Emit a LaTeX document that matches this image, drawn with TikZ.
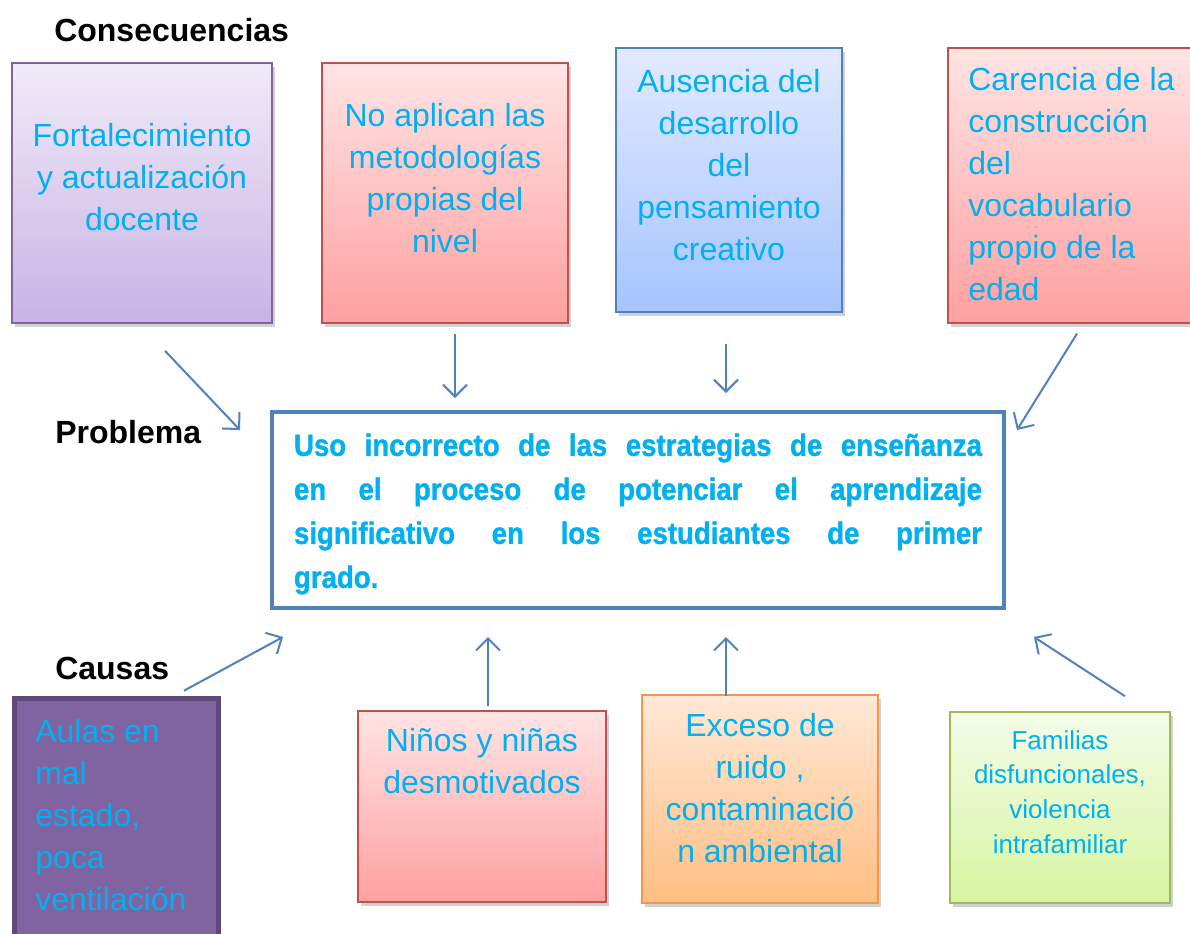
\documentclass[tikz,border=0pt]{standalone}
\usepackage{fontspec}
\setmainfont{Liberation Sans}
\newfontfamily\heavyfont{Liberation Sans Bold}[FakeBold=1.2,FakeStretch=0.9]
\usetikzlibrary{arrows.meta,shadows,calc}

\definecolor{txtcyan}{RGB}{0,176,240}
\definecolor{linkblue}{RGB}{79,129,189}
\definecolor{lilaedge}{RGB}{128,100,162}
\definecolor{lilatop}{RGB}{240,234,248}
\definecolor{lilabot}{RGB}{200,180,228}
\definecolor{rededge}{RGB}{192,80,77}
\definecolor{redtop}{RGB}{255,228,228}
\definecolor{redbot}{RGB}{255,160,160}
\definecolor{bluetop}{RGB}{226,234,255}
\definecolor{bluebot}{RGB}{166,196,255}
\definecolor{orangeedge}{RGB}{247,150,70}
\definecolor{orangetop}{RGB}{255,232,214}
\definecolor{orangebot}{RGB}{255,190,130}
\definecolor{greenedge}{RGB}{155,187,89}
\definecolor{greentop}{RGB}{244,252,232}
\definecolor{greenbot}{RGB}{215,245,160}
\definecolor{darkedge}{RGB}{95,73,122}

\begin{document}
\begin{tikzpicture}[x=0.75pt,y=-0.75pt,
  box/.style={draw, rectangle, line width=1.2pt, inner sep=0pt,
    drop shadow={shadow xshift=2pt, shadow yshift=-3pt, opacity=0.3, fill=black!60}},
  txt/.style={font=\fontsize{24pt}{31.5pt}\selectfont, text=txtcyan, align=center, inner sep=0pt},
  head/.style={font=\fontsize{24pt}{28pt}\selectfont\bfseries, anchor=west, inner sep=0pt},
  conn/.style={draw=linkblue, line width=1.5pt, -{Straight Barb[length=9pt,width=18pt,line width=1.5pt]}}]
  \useasboundingbox (0,0) rectangle (1190,933);

  % Headings
  \node[head] (hcons) at (54,30) {Consecuencias};
  \node[head] (hprob) at (55,432) {Problema};
  \node[head] (hcaus) at (55,668) {Causas};

  % Consequences
  \node[box, draw=lilaedge, top color=lilatop, bottom color=lilabot,
    minimum width=195pt, minimum height=195pt] (c1) at (142,193) {};
  \node[box, draw=rededge, top color=redtop, bottom color=redbot,
    minimum width=184.5pt, minimum height=195pt] (c2) at (445,193) {};
  \node[box, draw=linkblue, top color=bluetop, bottom color=bluebot,
    minimum width=169.5pt, minimum height=198pt] (c3) at (729,180) {};
  \node[box, draw=rededge, top color=redtop, bottom color=redbot,
    minimum width=189pt, minimum height=206pt] (c4) at (1074,185.5) {};

  \node[txt] (c1t) at (142,177) {Fortalecimiento\\y actualización\\docente};
  \node[txt] (c2t) at (445,178) {No aplican las\\metodologías\\propias del\\nivel};
  \node[txt] (c3t) at (729,165) {Ausencia del\\desarrollo\\del\\pensamiento\\creativo};
  \node[txt, anchor=west, align=left] (c4t) at (968,184)
    {Carencia de la\\construcción\\del\\vocabulario\\propio de la\\edad};

  % Problem
  \node[draw=linkblue, line width=3pt, fill=white, minimum width=549pt,
    minimum height=147pt] (prob) at (638,510) {};
  \node[font=\fontsize{23pt}{33pt}\heavyfont, text=txtcyan,
    text width=516pt, align=justify, inner sep=0pt] (probt) at (638,514)
    {Uso incorrecto de las estrategias de enseñanza\linebreak
     en el proceso de potenciar el aprendizaje\linebreak
     significativo en los estudiantes de primer\linebreak
     grado.};

  % Causes
  \node[draw=darkedge, line width=3.75pt, fill=lilaedge,
    minimum width=153pt, minimum height=185pt] (k1) at (116,821.5) {};
  \node[box, draw=rededge, top color=redtop, bottom color=redbot,
    minimum width=186pt, minimum height=143.25pt] (k2) at (482,806.5) {};
  \node[box, draw=orangeedge, top color=orangetop, bottom color=orangebot,
    minimum width=177pt, minimum height=156pt] (k3) at (760,799) {};
  \node[box, draw=greenedge, top color=greentop, bottom color=greenbot,
    minimum width=165pt, minimum height=143.25pt] (k4) at (1060,807.5) {};

  \node[txt, anchor=west, align=left] (k1t) at (35,815)
    {Aulas en\\mal\\estado,\\poca\\ventilación};
  \node[txt] (k2t) at (482,761) {Niños y niñas\\desmotivados};
  \node[txt] (k3t) at (760,788) {Exceso de\\ruido ,\\contaminació\\n ambiental};
  \node[txt, font=\fontsize{19.5pt}{26pt}\selectfont] (k4t) at (1060,792)
    {Familias\\disfuncionales,\\violencia\\intrafamiliar};

  % Arrows into the problem
  \draw[conn] ([shift={(23,27)}]c1.south) -- ([shift={(-30,20)}]prob.north west);
  \draw[conn] ([shift={(10,10)}]c2.south) -- ($(c2.south |- prob.north)+(10,-12)$);
  \draw[conn] ([shift={(-3,31)}]c3.south) -- ($(c3.south |- prob.north)+(-3,-17)$);
  \draw[conn] ([shift={(3,10)}]c4.south) -- ([shift={(11,20)}]prob.north east);

  \draw[conn] ([shift={(68,-5)}]k1.north) -- ([shift={(13,27)}]prob.south west);
  \draw[conn] ([shift={(6,-4)}]k2.north) -- ($(k2.north |- prob.south)+(6,27)$);
  \draw[conn] ([shift={(-34,2)}]k3.north) -- ($(k3.north |- prob.south)+(-34,27)$);
  \draw[conn] ([shift={(65,-15)}]k4.north) -- ([shift={(28,27)}]prob.south east);
\end{tikzpicture}
\end{document}
